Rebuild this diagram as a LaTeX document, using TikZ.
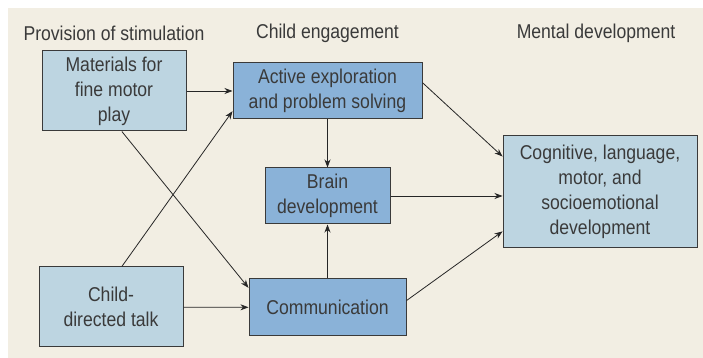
\documentclass[tikz,border=0pt]{standalone}
\usepackage{fontspec}
\setmainfont{Liberation Sans}[FakeStretch=0.88]
\usepackage{tikz}
\usetikzlibrary{arrows}
\usetikzlibrary{arrows.meta}
\definecolor{pagebg}{HTML}{F2EEE3}
\definecolor{lightbox}{HTML}{BDD5E1}
\definecolor{darkbox}{HTML}{8AB2D8}
\definecolor{inkgray}{HTML}{3A3A3A}

\begin{document}
\begin{tikzpicture}[x=1pt,y=1pt,->,>={Stealth[length=8pt,width=6pt,inset=2.5pt]},shorten >=0pt,
  thick,
  every node/.style={font=\fontsize{20}{25}\selectfont,text=inkgray},
  input node/.style={rectangle,fill=lightbox,draw=inkgray,line width=1pt,align=center,inner sep=0pt},
  engage node/.style={rectangle,fill=darkbox,draw=inkgray,line width=1pt,align=center,inner sep=0pt}]

\fill[white] (0,0) rectangle (703,358);
\fill[pagebg] (8,0) rectangle (703,350);
\useasboundingbox (0,0) rectangle (703,358);

% column headings
\node (head1) at (114,325) {Provision of stimulation};
\node (head2) at (327.5,325) {Child engagement};
\node (head3) at (596,325) {Mental development};

% boxes
\node[input node,minimum width=144pt,minimum height=80pt] (materials) at (114,267) {Materials for\\fine motor\\play};
\node[input node,minimum width=144pt,minimum height=80pt] (talk) at (111,51) {Child-\\directed talk};
\node[engage node,minimum width=189pt,minimum height=56pt] (active) at (327.5,267) {Active exploration\\and problem solving};
\node[engage node,minimum width=125pt,minimum height=56pt] (brain) at (327.5,162) {Brain\\development};
\node[engage node,minimum width=157pt,minimum height=57pt] (comm) at (327.5,50.5) {Communication};
\node[input node,minimum width=194pt,minimum height=112pt] (cog) at (600,166) {Cognitive, language,\\motor, and\\socioemotional\\development};

\path[every edge/.append style={draw=black!85,line width=0.8pt}]
(materials) edge (active)
  (materials.-79) edge (comm.166)
(talk) edge (comm)
  (talk.75) edge (active.192)
(active) edge (brain)
  (active.5) edge (cog.160)
(comm) edge (brain)
  (comm.5) edge (cog.202)
(brain) edge (brain -| cog.west)
;
\end{tikzpicture}
\end{document}
